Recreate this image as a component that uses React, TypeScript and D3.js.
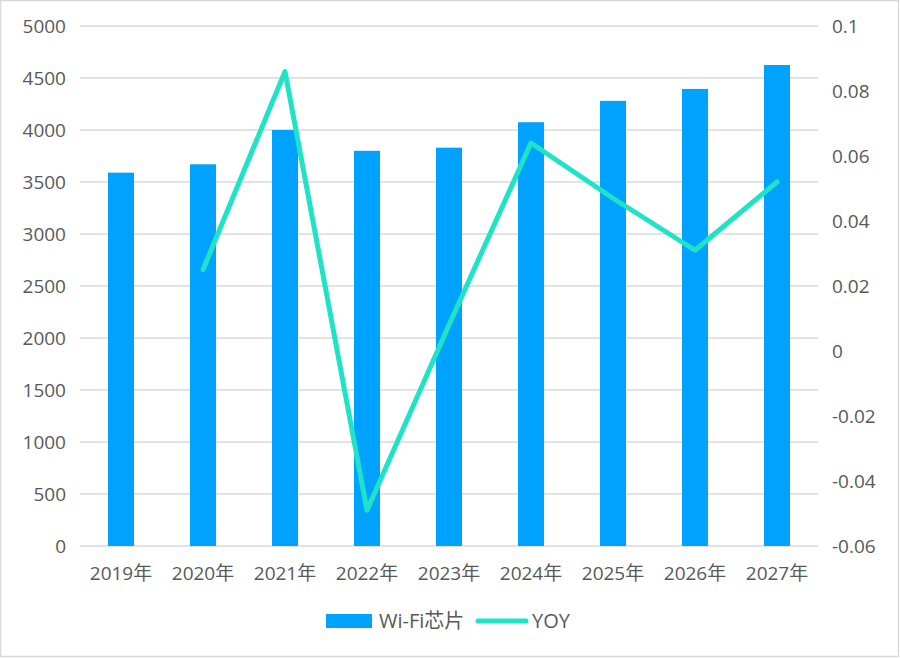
import React, { useEffect, useRef } from 'react'
import * as d3 from 'd3'

const years = ['2019年', '2020年', '2021年', '2022年', '2023年', '2024年', '2025年', '2026年', '2027年']
const wifiChips = [3590, 3670, 4000, 3800, 3830, 4075, 4280, 4395, 4625]
const yoy: (number | null)[] = [null, 0.025, 0.086, -0.049, 0.008, 0.064, 0.047, 0.031, 0.052]
const leftTicks = [0, 500, 1000, 1500, 2000, 2500, 3000, 3500, 4000, 4500, 5000]
const rightTicks = [-0.06, -0.04, -0.02, 0, 0.02, 0.04, 0.06, 0.08, 0.1]

const W = 900
const H = 658
const barColor = '#00a2ff'
const lineColor = '#1fe3c6'
const textColor = '#595959'
const font = '"Open Sans", "Noto Sans CJK SC", sans-serif'

export default function App() {
  const svgRef = useRef<SVGSVGElement>(null)

  useEffect(() => {
    if (!svgRef.current) return
    const svg = d3.select(svgRef.current)
    svg.selectAll('*').remove()

    const left = 80
    const right = 818
    const top = 26
    const bottom = 546

    // outer frame
    svg.append('rect')
      .attr('x', 0.5).attr('y', 0.5)
      .attr('width', W - 2).attr('height', H - 2)
      .attr('fill', 'white')
      .attr('stroke', '#d9d9d9')
      .attr('stroke-width', 1.5)

    const x = d3.scaleBand().domain(years).range([left, right])
    const yL = d3.scaleLinear().domain([0, 5000]).range([bottom, top])
    const yR = d3.scaleLinear().domain([-0.06, 0.1]).range([bottom, top])

    // gridlines
    svg.append('g')
      .selectAll('line')
      .data(leftTicks)
      .join('line')
      .attr('x1', left).attr('x2', right)
      .attr('y1', d => yL(d)).attr('y2', d => yL(d))
      .attr('stroke', '#d9d9d9')
      .attr('stroke-width', 1.3)

    // left axis labels
    svg.append('g')
      .selectAll('text')
      .data(leftTicks)
      .join('text')
      .attr('x', 66)
      .attr('y', d => yL(d))
      .attr('dy', '0.35em')
      .attr('text-anchor', 'end')
      .attr('fill', textColor)
      .attr('font-size', 19)
      .attr('font-family', font)
      .text(d => d)

    // right axis labels (plain hyphen minus, like the source)
    svg.append('g')
      .selectAll('text')
      .data(rightTicks)
      .join('text')
      .attr('x', 832)
      .attr('y', d => yR(d))
      .attr('dy', '0.35em')
      .attr('fill', textColor)
      .attr('font-size', 19)
      .attr('font-family', font)
      .text(d => String(Number(d.toFixed(2))))

    // bars
    const barW = 26
    svg.append('g')
      .selectAll('rect')
      .data(wifiChips)
      .join('rect')
      .attr('x', (d, i) => x(years[i])! + x.bandwidth() / 2 - barW / 2)
      .attr('y', d => yL(d))
      .attr('width', barW)
      .attr('height', d => bottom - yL(d))
      .attr('fill', barColor)

    // x labels
    svg.append('g')
      .selectAll('text')
      .data(years)
      .join('text')
      .attr('x', d => x(d)! + x.bandwidth() / 2)
      .attr('y', 580)
      .attr('text-anchor', 'middle')
      .attr('fill', textColor)
      .attr('font-size', 19)
      .attr('font-family', font)
      .text(d => d)

    // YOY line
    const line = d3.line<number | null>()
      .defined(d => d !== null)
      .x((d, i) => x(years[i])! + x.bandwidth() / 2)
      .y(d => yR(d as number))

    svg.append('path')
      .datum(yoy)
      .attr('d', line)
      .attr('fill', 'none')
      .attr('stroke', lineColor)
      .attr('stroke-width', 5)
      .attr('stroke-linejoin', 'round')
      .attr('stroke-linecap', 'round')

    // legend
    const lg = svg.append('g').attr('transform', 'translate(326,621)')
    lg.append('rect')
      .attr('x', 0).attr('y', -7)
      .attr('width', 46).attr('height', 14)
      .attr('fill', barColor)
    lg.append('text')
      .attr('x', 53).attr('dy', '0.35em')
      .attr('fill', textColor)
      .attr('font-size', 20)
      .attr('font-family', font)
      .text('Wi-Fi芯片')
    lg.append('line')
      .attr('x1', 152).attr('x2', 200)
      .attr('stroke', lineColor)
      .attr('stroke-width', 5)
      .attr('stroke-linecap', 'round')
    lg.append('text')
      .attr('x', 206).attr('dy', '0.35em')
      .attr('fill', textColor)
      .attr('font-size', 20)
      .attr('font-family', font)
      .text('YOY')
  }, [])

  return (
    <svg
      ref={svgRef}
      width={W}
      height={H}
      style={{ position: 'absolute', left: 0, top: 0, display: 'block' }}
    />
  )
}
